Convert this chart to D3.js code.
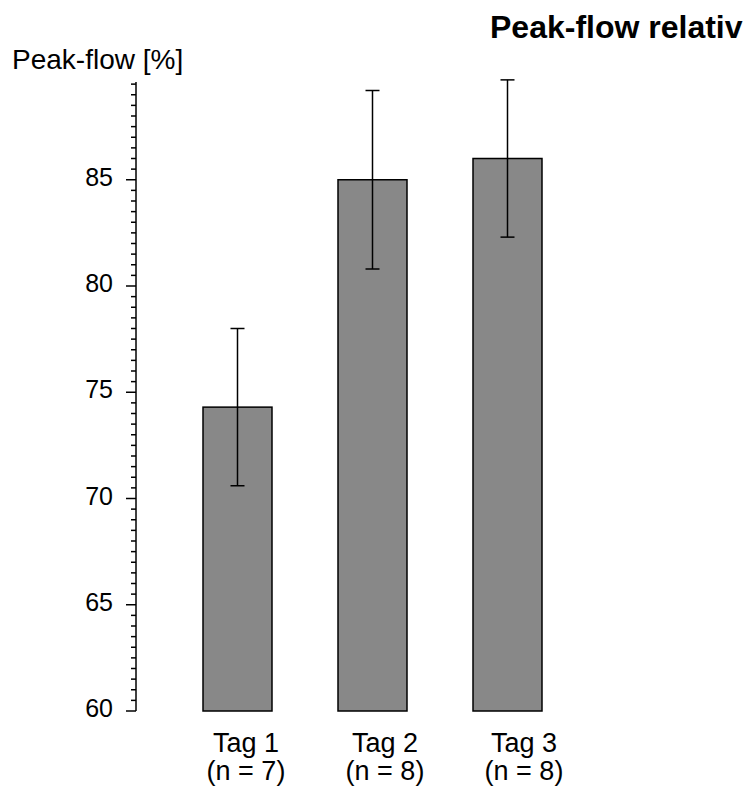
<!DOCTYPE html>
<html>
<head>
<meta charset="utf-8">
<script src="https://cdn.jsdelivr.net/npm/d3@7"></script>
<style>
  body { margin: 0; background: #fff; }
  svg { display: block; font-family: "Liberation Sans", Arial, sans-serif; }
</style>
</head>
<body>
<svg id="chart" width="743" height="789"></svg>
<script>
// Peak-flow by day, mean with standard deviation
const days = ["Tag 1", "Tag 2", "Tag 3"];
const counts = ["(n = 7)", "(n = 8)", "(n = 8)"];
const means = [74.3, 85.0, 86.0];
const sds = [3.7, 4.2, 3.7];
const majorTicks = [60, 65, 70, 75, 80, 85];

const svg = d3.select("#chart");

const y = d3.scaleLinear().domain([60, 89.6]).range([711, 82]);
const x = d3.scaleBand().domain(days).range([170, 575]).paddingInner(0.489).paddingOuter(0.2445);
// Category labels sit slightly right of the bar centres
const xLabel = d3.scalePoint().domain(days).range([246, 524]);

// Bars
svg.append("g").selectAll("rect").data(days).join("rect")
  .attr("x", d => x(d))
  .attr("y", (d, i) => y(means[i]))
  .attr("width", x.bandwidth())
  .attr("height", (d, i) => y(60) - y(means[i]))
  .attr("fill", "#888888")
  .attr("stroke", "#000")
  .attr("stroke-width", 1.5);

// Error bars
const eb = svg.append("g").attr("stroke", "#000").attr("stroke-width", 1.5);
days.forEach((d, i) => {
  const cx = x(d) + x.bandwidth() / 2;
  const top = y(means[i] + sds[i]);
  const bot = y(means[i] - sds[i]);
  eb.append("line").attr("x1", cx).attr("x2", cx).attr("y1", top).attr("y2", bot);
  eb.append("line").attr("x1", cx - 7).attr("x2", cx + 7).attr("y1", top).attr("y2", top);
  eb.append("line").attr("x1", cx - 7).attr("x2", cx + 7).attr("y1", bot).attr("y2", bot);
});

// Y axis with half-unit minor ticks
const axisX = 136;
const ax = svg.append("g").attr("transform", `translate(${axisX},0)`);
ax.append("line").attr("x1", 0).attr("x2", 0).attr("y1", y.range()[1]).attr("y2", y(60))
  .attr("stroke", "#000").attr("stroke-width", 1.5);
const minor = d3.range(60, 89.75, 0.5).filter(v => !majorTicks.includes(v));
ax.selectAll("line.minor").data(minor).join("line").attr("class", "minor")
  .attr("x1", -5).attr("x2", 0).attr("y1", d => y(d)).attr("y2", d => y(d))
  .attr("stroke", "#000").attr("stroke-width", 1.5);
ax.selectAll("line.major").data(majorTicks).join("line").attr("class", "major")
  .attr("x1", -10).attr("x2", 0).attr("y1", d => y(d)).attr("y2", d => y(d))
  .attr("stroke", "#000").attr("stroke-width", 1.5);
ax.selectAll("text").data(majorTicks).join("text")
  .attr("x", -23).attr("y", d => y(d) + 6)
  .attr("text-anchor", "end").attr("font-size", 25).text(d => d);

// Axis title
svg.append("text").attr("x", 12).attr("y", 69).attr("font-size", 28).text("Peak-flow [%]");

// Chart title
svg.append("text").attr("x", 490).attr("y", 38).attr("font-size", 32)
  .attr("font-weight", "bold").text("Peak-flow relativ");

// Category labels
const lab = svg.append("g").attr("font-size", 27).attr("text-anchor", "middle");
days.forEach((d, i) => {
  lab.append("text").attr("x", xLabel(d)).attr("y", 752).text(d);
  lab.append("text").attr("x", xLabel(d)).attr("y", 780).text(counts[i]);
});
</script>
</body>
</html>
